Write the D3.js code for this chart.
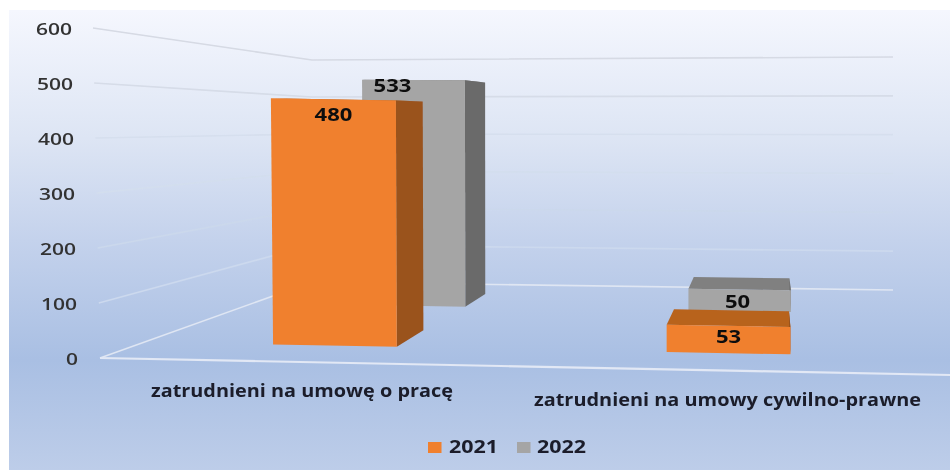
<!DOCTYPE html>
<html><head><meta charset="utf-8">
<script src="https://cdn.jsdelivr.net/npm/d3@7"></script>
<style>html,body{margin:0;padding:0;background:#fff}svg{display:block}</style>
</head><body><div id="c"></div>
<script>
const categories = ["zatrudnieni na umowę o pracę", "zatrudnieni na umowy cywilno-prawne"];
const seriesNames = ["2021", "2022"];
const values2021 = [480, 53];
const values2022 = [533, 50];
const yTicks = [0, 100, 200, 300, 400, 500, 600];

const W = 950, H = 470;
const svg = d3.select("#c").append("svg").attr("width", W).attr("height", H);
const defs = svg.append("defs");
const grad = defs.append("linearGradient").attr("id", "bg").attr("x1", 0).attr("y1", 0).attr("x2", 0).attr("y2", 1);
[[0, "#f5f7fe"], [0.28, "#dde5f4"], [0.5, "#c4d2ec"], [0.76, "#a9bfe3"], [1, "#bdcde9"]].forEach(s =>
  grad.append("stop").attr("offset", s[0]).attr("stop-color", s[1]));
defs.append("filter").attr("id", "soft").attr("filterUnits", "userSpaceOnUse")
  .attr("x", 0).attr("y", 0).attr("width", W).attr("height", H)
  .append("feGaussianBlur").attr("stdDeviation", 0.7);

svg.append("rect").attr("x", 9).attr("y", 10).attr("width", W - 9).attr("height", H - 10).attr("fill", "url(#bg)");
const g = svg.append("g").attr("filter", "url(#soft)");

// Floor-plane projection: u across categories, d into depth, v is the data value
const frontX = d3.scaleLinear().domain([0, 1]).range([100, 950]);
const backX = d3.scaleLinear().domain([0, 1]).range([312, 893]);
const frontY = d3.scaleLinear().domain([0, 1]).range([358, 375]);
const backY = d3.scaleLinear().domain([0, 1]).range([282, 290]);
const backH = d3.scaleLinear().domain([0, 1]).range([222, 233]);
const valueFront = d3.scaleLinear().domain([0, 600]).range([0, 330]);
const lean = d3.scaleLinear().domain([0, 600]).range([0, 7]);
function project(u, d, v) {
  const h = d3.scaleLinear().domain([0, 1]).range([valueFront(v), backH(u) * v / 600])(d);
  return [
    d3.interpolateNumber(frontX(u), backX(u))(d) - lean(v) * (1 - d) * Math.pow(1 - u, 4),
    d3.interpolateNumber(frontY(u), backY(u))(d) - h
  ];
}
const poly = pts => pts.map(p => p.join(",")).join(" ");

// Walls and floor gridlines: grey and visible high up, fading into the blue, whiter near the floor
const gridColor = d3.scaleOrdinal().domain(yTicks).range(["#dfe6f3", "#ccd9ee", "#cbd8ec", "#d3deee", "#d6dfee", "#d6dce8", "#d6dae4"]);
yTicks.forEach(t => {
  g.append("polyline").attr("fill", "none").attr("stroke", gridColor(t)).attr("stroke-width", 1.6)
    .attr("points", poly([project(0, 0, t), project(0, 1, t), project(1, 1, t)]));
});
g.append("line").attr("stroke", "#e2e8f5").attr("stroke-width", 2.2)
  .attr("x1", project(0, 0, 0)[0]).attr("y1", project(0, 0, 0)[1])
  .attr("x2", project(1, 0, 0)[0]).attr("y2", project(1, 0, 0)[1]);

// Axis labels
const labelRight = d3.scaleLinear().domain([0, 600]).range([78, 72]);
const labelY = d3.scaleLinear().domain([0, 600]).range([359, 29]);
g.selectAll("text.tick").data(yTicks).join("text").attr("class", "tick")
  .attr("x", d => labelRight(d)).attr("y", d => labelY(d)).attr("dy", "0.36em")
  .attr("text-anchor", "end").attr("font-family", "Open Sans").attr("font-size", 17).attr("font-weight", 600)
  .attr("fill", "#333").attr("textLength", d => String(d).length * 12).attr("lengthAdjust", "spacingAndGlyphs")
  .text(d => d);

// Bars
const band = d3.scaleBand().domain(categories).range([0.162, 0.814]).paddingInner(0.6855).paddingOuter(0);
const seriesShift = d3.scaleOrdinal().domain(seriesNames).range([0, 0.006]);
const depthFront = d3.scaleOrdinal().domain(seriesNames).range([0.21, 0.72]);
const depthBack = d3.scaleOrdinal().domain(seriesNames).range([0.42, 0.88]);
const faceFront = d3.scaleOrdinal().domain(seriesNames).range(["#f0802f", "#a5a5a5"]);
const faceSide = d3.scaleOrdinal().domain(seriesNames).range(["#9a521e", "#6b6b6b"]);
const faceTop = d3.scaleOrdinal().domain(seriesNames).range(["#b8631f", "#808080"]);

function bar(cat, s, v) {
  const u0 = band(cat) + seriesShift(s), u1 = u0 + band.bandwidth(), d0 = depthFront(s), d1 = depthBack(s);
  g.append("polygon").attr("fill", faceTop(s))
    .attr("points", poly([project(u0, d0, v), project(u1, d0, v), project(u1, d1, v), project(u0, d1, v)]));
  g.append("polygon").attr("fill", faceSide(s))
    .attr("points", poly([project(u1, d0, 0), project(u1, d0, v), project(u1, d1, v), project(u1, d1, 0)]));
  g.append("polygon").attr("fill", faceFront(s))
    .attr("points", poly([project(u0, d0, 0), project(u1, d0, 0), project(u1, d0, v), project(u0, d0, v)]));
}
categories.forEach((c, i) => {
  bar(c, seriesNames[1], values2022[i]);
  bar(c, seriesNames[0], values2021[i]);
});

// Data labels
const labelDx = [[0, 0], [-21, -2]];
const labelDy = [[16, 11], [6, 12]];
[values2021, values2022].forEach((vals, si) => {
  vals.forEach((v, ci) => {
    const c = categories[ci], s = seriesNames[si], d0 = depthFront(s);
    const u = band(c) + seriesShift(s) + band.bandwidth() / 2;
    const p = project(u, d0, v);
    g.append("text").attr("x", p[0] + labelDx[si][ci]).attr("y", p[1] + labelDy[si][ci]).attr("dy", "0.36em")
      .attr("text-anchor", "middle").attr("font-family", "Open Sans").attr("font-weight", 700)
      .attr("font-size", 17).attr("fill", "#111")
      .attr("textLength", String(v).length * 12.6).attr("lengthAdjust", "spacingAndGlyphs").text(v);
  });
});

// Category labels
const catLayout = [{x: 151, y: 391, w: 302}, {x: 534, y: 400, w: 387}];
categories.forEach((c, i) => {
  g.append("text").attr("x", catLayout[i].x).attr("y", catLayout[i].y).attr("dy", "0.36em")
    .attr("font-family", "Open Sans").attr("font-weight", 700).attr("font-size", 17)
    .attr("fill", "#1a1f2b").attr("textLength", catLayout[i].w).attr("lengthAdjust", "spacingAndGlyphs").text(c);
});

// Legend
const legendLayout = [{sx: 428, tx: 449}, {sx: 517, tx: 537}];
seriesNames.forEach((s, i) => {
  g.append("rect").attr("x", legendLayout[i].sx).attr("y", 442).attr("width", 13.5).attr("height", 11).attr("fill", faceFront(s));
  g.append("text").attr("x", legendLayout[i].tx).attr("y", 447).attr("dy", "0.36em")
    .attr("font-family", "Open Sans").attr("font-weight", 700).attr("font-size", 17).attr("fill", "#1a1f2b")
    .attr("textLength", 49).attr("lengthAdjust", "spacingAndGlyphs").text(s);
});
</script></body></html>
